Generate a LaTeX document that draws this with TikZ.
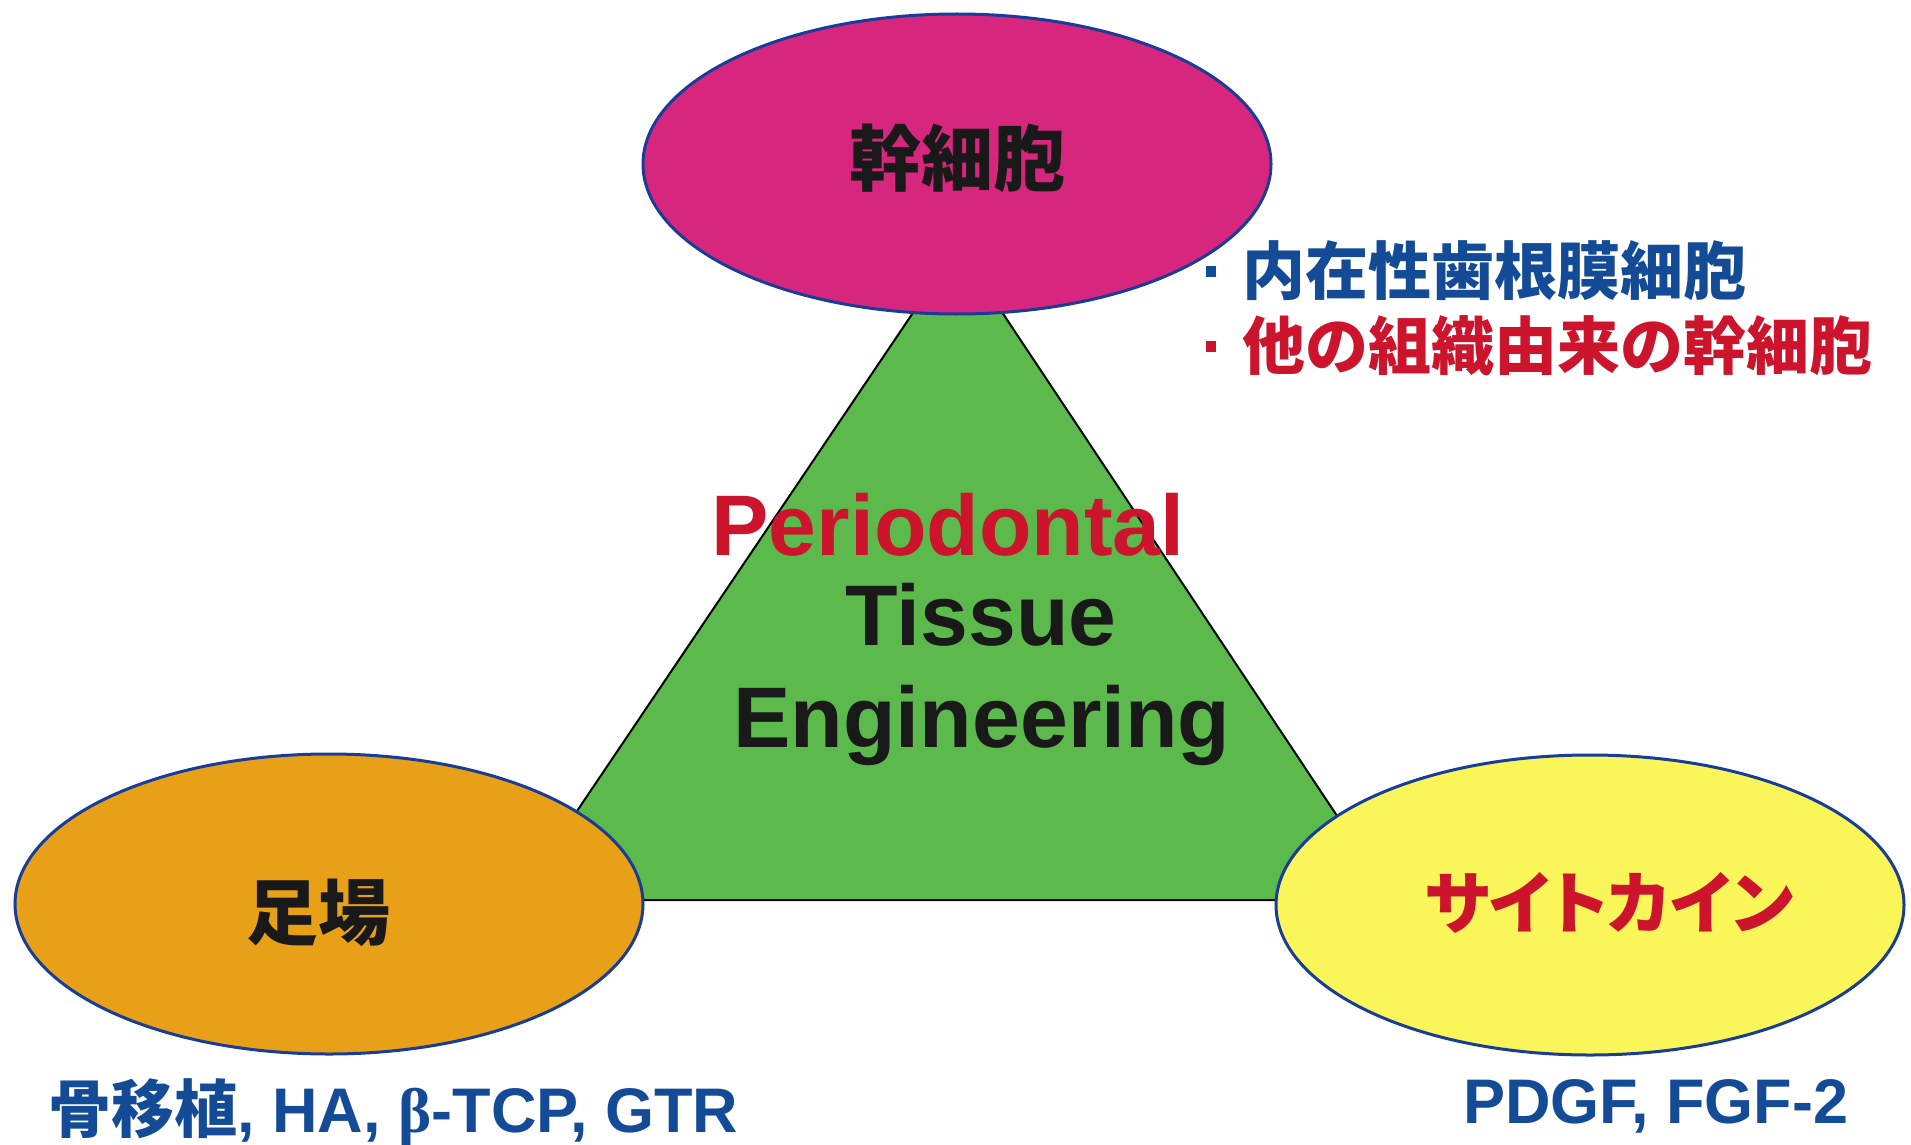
\documentclass[tikz,border=0pt]{standalone}
\usepackage{fontspec}
\setmainfont{Liberation Sans}
\newfontfamily\cjk{Noto Sans CJK JP}
\newfontfamily\cjkp{Noto Sans CJK JP}[RawFeature=+palt]
\newfontfamily\betafont{Liberation Serif}
\usetikzlibrary{shapes.geometric}
\definecolor{ellblue}{RGB}{25,60,150}
\definecolor{magentafill}{RGB}{214,38,126}
\definecolor{orangefill}{RGB}{233,160,25}
\definecolor{yellowfill}{RGB}{250,246,90}
\definecolor{greenfill}{RGB}{92,186,76}
\definecolor{txtblue}{RGB}{20,75,150}
\definecolor{txtred}{RGB}{205,20,45}
\definecolor{txtblack}{RGB}{25,25,25}
\newcommand{\sqbullet}{\makebox[1em]{\rule[0.27em]{0.17em}{0.17em}}}
\begin{document}
\begin{tikzpicture}[x=0.5pt,y=-0.5pt,
  blob/.style={ellipse, draw=ellblue, line width=1.5pt, minimum width=314pt, minimum height=150pt, inner sep=0pt},
  lbl/.style={inner sep=0pt, anchor=base},
  bigen/.style={lbl, font=\fontsize{43pt}{46pt}\selectfont\bfseries},
  bigjp/.style={lbl, font=\fontsize{36pt}{40pt}\selectfont\cjk\bfseries, text=txtblack},
  listjp/.style={lbl, anchor=base west, font=\fontsize{31.5pt}{34pt}\selectfont\cjk\bfseries},
  foot/.style={lbl, anchor=base west, font=\fontsize{31.5pt}{34pt}\selectfont\bfseries, text=txtblue}]
\useasboundingbox (0,0) rectangle (1911,1145);
\fill[white] (0,0) rectangle (1911,1145);
% triangle
\coordinate (apex) at (958,246);
\coordinate (bl) at (517,900);
\coordinate (br) at (1393,900);
\filldraw[fill=greenfill, draw=black, line width=1pt] (apex) -- (bl) -- (br) -- cycle;
% ellipses
\node[blob, fill=magentafill] (stem) at (957,164) {};
\node[blob, fill=orangefill] (scaf) at (329,904) {};
\node[blob, fill=yellowfill] (cyto) at (1590,905) {};
% ellipse labels
\node[bigjp] (stemlbl) at (957,185) {幹細胞};
\node[bigjp] (scaflbl) at (318,939) {足場};
\node[lbl, font=\fontsize{34pt}{38pt}\selectfont\cjkp\bfseries, text=txtred] (cytolbl) at (1609,928) {サイトカイン};
% centre text
\node[bigen, text=txtred] (tP) at (948,555) {Periodontal};
\node[bigen, text=txtblack] (tT) at (981,645) {Tissue};
\node[bigen, text=txtblack] (tE) at (982,747) {Engineering};
% stem cell list
\node[listjp, text=txtblue] (list1) at (1179,294) {\sqbullet 内在性歯根膜細胞};
\node[listjp, text=txtred] (list2) at (1179,369) {\sqbullet 他の組織由来の幹細胞};
% footers
\node[foot] (scaffoot) at (48,1132) {{\cjk 骨移植}, HA, {\betafont β}-TCP, GTR};
\node[foot] (cytofoot) at (1463,1123) {PDGF, FGF-2};
\end{tikzpicture}
\end{document}
